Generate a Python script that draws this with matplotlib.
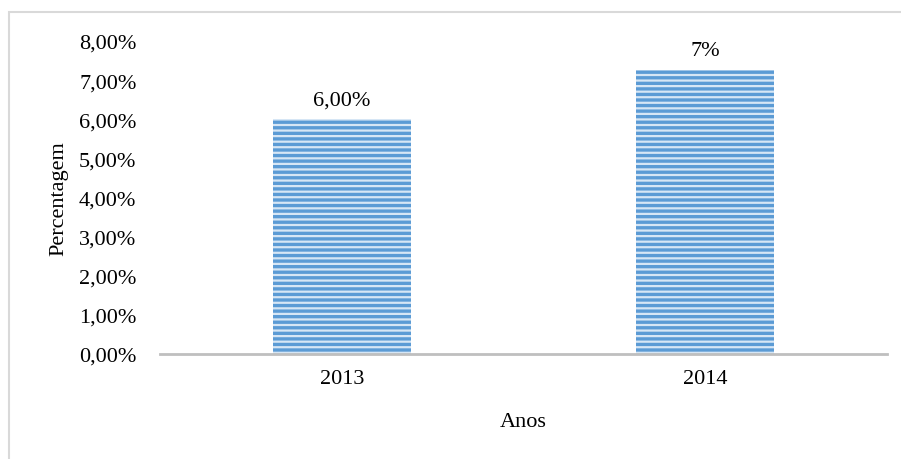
import matplotlib
matplotlib.use("Agg")
import matplotlib.pyplot as plt
from matplotlib.patches import Rectangle

anos = ["2013", "2014"]
percentagem = [6.00, 7.26]
rotulos = ["6,00%", "7%"]
yticks = [0, 1, 2, 3, 4, 5, 6, 7, 8]
ytick_labels = ["0,00%", "1,00%", "2,00%", "3,00%", "4,00%", "5,00%", "6,00%", "7,00%", "8,00%"]

plt.rcParams['font.family'] = ['Liberation Serif', 'DejaVu Serif']
plt.rcParams['hatch.linewidth'] = 1.6

fs = 16

fig = plt.figure(figsize=(9.01, 4.60), dpi=100)
ax = fig.add_axes([0.1776, 0.2283, 0.8069, 0.6804])

x = range(len(anos))
bars = ax.bar(x, percentagem, width=0.38, color='#5B9BD5', edgecolor='#D6E6F5',
              linewidth=0, hatch='---')

for b, lab in zip(bars, rotulos):
    ax.text(b.get_x() + b.get_width() / 2, b.get_height() + 0.26, lab,
            ha='center', va='bottom', fontsize=fs)

ax.set_xlim(-0.5, 1.5)
ax.set_ylim(0, 8)
ax.set_xticks(list(x))
ax.set_xticklabels(anos, fontsize=fs)
ax.set_yticks(yticks)
ax.set_yticklabels(ytick_labels, fontsize=fs)
ax.tick_params(axis='both', length=0)
ax.tick_params(axis='y', pad=17)
ax.tick_params(axis='x', pad=11)

for s in ['top', 'right', 'left']:
    ax.spines[s].set_visible(False)
ax.spines['bottom'].set_color('#BFBFBF')
ax.spines['bottom'].set_linewidth(2)

ax.set_xlabel("Anos", fontsize=fs, labelpad=17)
ax.set_ylabel("Percentagem", fontsize=fs)
ax.yaxis.set_label_coords(-0.126, 0.5)

fig.patches.append(Rectangle((8.5 / 901, -0.1), 1.1, 1 - 13 / 460 + 0.1,
                             transform=fig.transFigure, fill=False,
                             edgecolor='#D9D9D9', linewidth=1.5))

fig.savefig("out.png", dpi=100)
